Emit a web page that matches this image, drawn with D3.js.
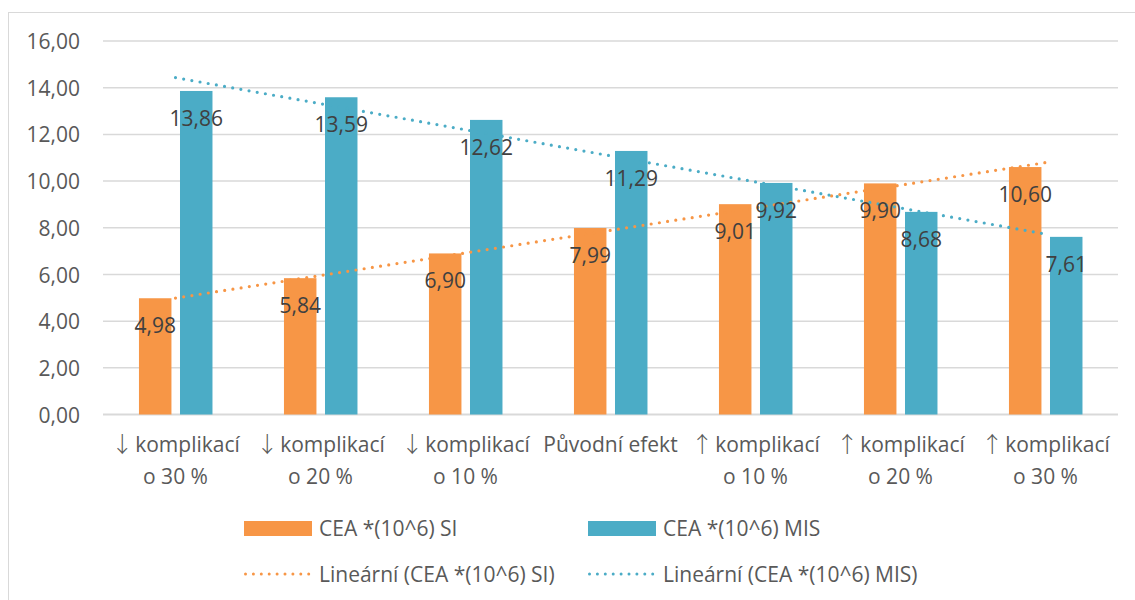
<!DOCTYPE html>
<html>
<head>
<meta charset="utf-8">
<script src="https://cdn.jsdelivr.net/npm/d3@7"></script>
<style>
  html, body { margin: 0; padding: 0; background: #fff; }
  svg { display: block; font-family: "Open Sans", "Noto Sans", sans-serif; }
</style>
</head>
<body>
<svg id="chart" width="1135" height="600"></svg>
<script>
// Scénáře citlivostní analýzy (popisky os ve dvou řádcích)
const categories = [
  ["↓ komplikací", "o 30 %"],
  ["↓ komplikací", "o 20 %"],
  ["↓ komplikací", "o 10 %"],
  ["Původní efekt"],
  ["↑ komplikací", "o 10 %"],
  ["↑ komplikací", "o 20 %"],
  ["↑ komplikací", "o 30 %"]
];
const seriesSI  = [4.98, 5.84, 6.90, 7.99, 9.01, 9.90, 10.60];
const seriesMIS = [13.86, 13.59, 12.62, 11.29, 9.92, 8.68, 7.61];
const yTicks = [0, 2, 4, 6, 8, 10, 12, 14, 16];
const seriesNames = ["CEA *(10^6) SI", "CEA *(10^6) MIS"];
const trendNames = ["Lineární (CEA *(10^6) SI)", "Lineární (CEA *(10^6) MIS)"];
const colors = ["#F79646", "#4BACC6"];

const svg = d3.select("#chart");
const fmt = d3.formatLocale({ decimal: ",", thousands: " ", grouping: [3], currency: ["", " Kč"] }).format(".2f");

const margin = { left: 103, right: 1118, top: 41, bottom: 414.5 };
const x = d3.scaleBand().domain(d3.range(categories.length)).range([margin.left, margin.right]);
const y = d3.scaleLinear().domain([0, 16]).range([margin.bottom, margin.top]);

// vnější rámeček grafu
svg.append("rect")
  .attr("x", 8.5).attr("y", 12.5).attr("width", 1140).attr("height", 600)
  .attr("fill", "none").attr("stroke", "#d9d9d9").attr("stroke-width", 1);

// mřížka
svg.append("g").selectAll("line").data(yTicks).join("line")
  .attr("x1", margin.left).attr("x2", margin.right)
  .attr("y1", d => y(d)).attr("y2", d => y(d))
  .attr("stroke", "#d9d9d9").attr("stroke-width", d => d === 0 ? 2 : 1.5);

// popisky osy Y
const yAxis = d3.axisLeft(y).tickValues(yTicks).tickFormat(fmt).tickSize(0).tickPadding(0);
const gy = svg.append("g").attr("transform", "translate(80,0)").call(yAxis);
gy.select(".domain").remove();
gy.selectAll("text")
  .attr("font-size", 21).attr("fill", "#595959")
  .attr("font-family", "'Open Sans', sans-serif")
  .attr("dy", "0.36em");

// sloupce
const bw = x.bandwidth();
const barW = bw * 0.224;
const offsets = [bw * 0.248, bw * 0.531];
const series = [seriesSI, seriesMIS];

series.forEach((vals, si) => {
  svg.append("g").selectAll("rect").data(vals).join("rect")
    .attr("x", (d, i) => x(i) + offsets[si])
    .attr("y", d => y(d))
    .attr("width", barW)
    .attr("height", d => y(0) - y(d))
    .attr("fill", colors[si]);
});

// lineární trendy (metoda nejmenších čtverců, x = 1..n)
function linearFit(vals) {
  const n = vals.length;
  const xs = d3.range(1, n + 1);
  const mx = d3.mean(xs), my = d3.mean(vals);
  const b = d3.sum(xs, (xv, i) => (xv - mx) * (vals[i] - my)) / d3.sum(xs, xv => (xv - mx) ** 2);
  const a = my - b * mx;
  return xs.map(xv => a + b * xv);
}
series.forEach((vals, si) => {
  const fit = linearFit(vals);
  const first = 0, last = fit.length - 1;
  svg.append("line")
    .attr("x1", x(first) + bw / 2).attr("y1", y(fit[first]))
    .attr("x2", x(last) + bw / 2).attr("y2", y(fit[last]))
    .attr("stroke", colors[si]).attr("stroke-width", 3.2)
    .attr("stroke-linecap", "round").attr("stroke-dasharray", "0 8.3");
});

// datové popisky
series.forEach((vals, si) => {
  svg.append("g").selectAll("text").data(vals).join("text")
    .attr("x", (d, i) => x(i) + offsets[si] + barW / 2)
    .attr("y", d => y(d) + 35)
    .attr("text-anchor", "middle")
    .attr("font-size", 21).attr("fill", "#404040")
    .text(d => fmt(d));
});

// popisky kategorií (šipky z CJK fontu, který má plnou šířku)
const xl = svg.append("g");
categories.forEach((lines, i) => {
  const cx = x(i) + bw / 2;
  lines.forEach((ln, j) => {
    const t = xl.append("text")
      .attr("x", cx).attr("y", 452 + j * 32)
      .attr("text-anchor", "middle")
      .attr("font-size", 21).attr("fill", "#595959");
    const m = ln.match(/^([↓↑])\s*(.*)$/);
    if (m) {
      t.append("tspan").attr("font-family", "'Noto Sans CJK SC', sans-serif")
        .attr("font-weight", 300).attr("font-size", 22).attr("fill", "#595959").text(m[1]);
      t.append("tspan").attr("dx", 2).text(m[2]);
    } else {
      t.text(ln);
    }
  });
});

// legenda
const legX = [244, 588];
const legend = svg.append("g");
series.forEach((vals, si) => {
  legend.append("rect")
    .attr("x", legX[si]).attr("y", 521).attr("width", 68).attr("height", 15)
    .attr("fill", colors[si]);
  legend.append("text")
    .attr("x", legX[si] + 75).attr("y", 528.5).attr("dy", "0.36em")
    .attr("font-size", 21).attr("fill", "#595959")
    .text(seriesNames[si]);
  legend.append("line")
    .attr("x1", legX[si] + 1.5).attr("x2", legX[si] + 67)
    .attr("y1", 574).attr("y2", 574)
    .attr("stroke", colors[si]).attr("stroke-width", 3)
    .attr("stroke-linecap", "round").attr("stroke-dasharray", "0 7.9");
  legend.append("text")
    .attr("x", legX[si] + 75).attr("y", 574).attr("dy", "0.36em")
    .attr("font-size", 21).attr("fill", "#595959")
    .text(trendNames[si]);
});
</script>
</body>
</html>
